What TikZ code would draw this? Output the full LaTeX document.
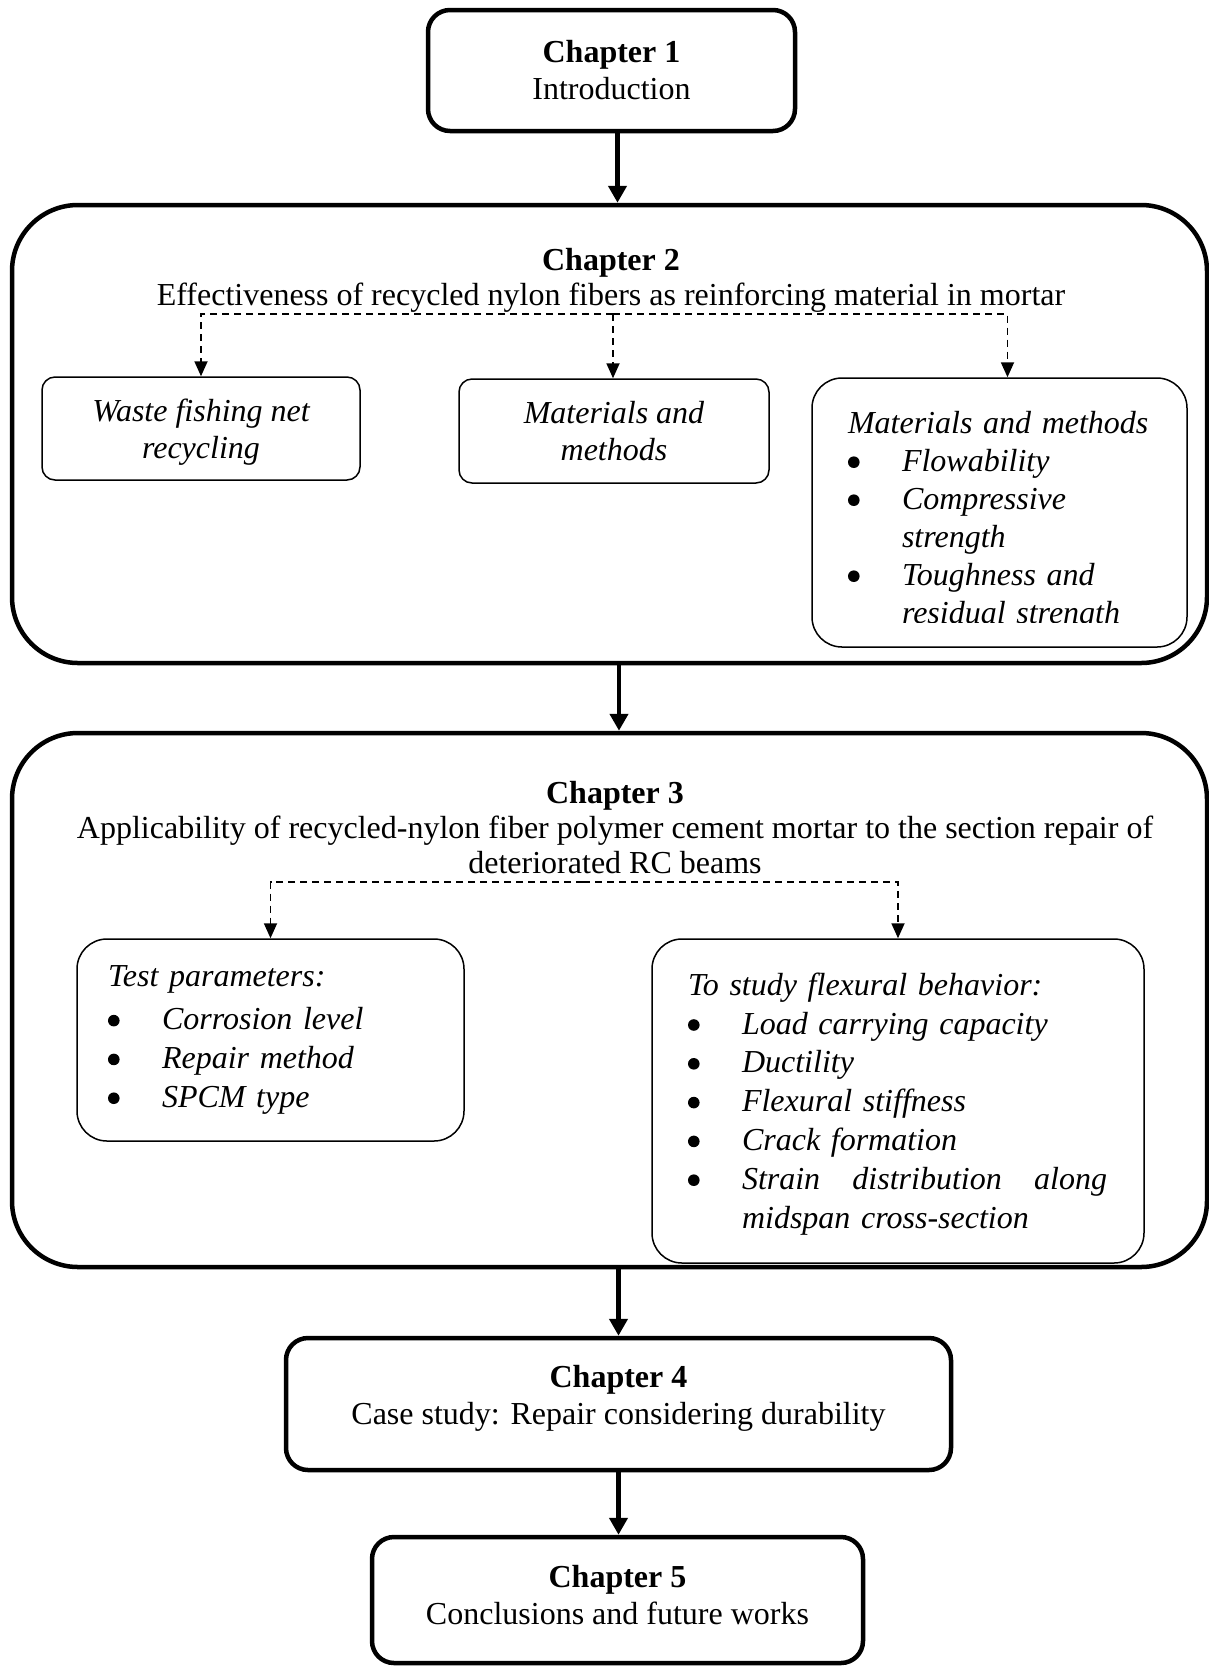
\documentclass[tikz,border=0pt]{standalone}
\usepackage{fontspec}
\setmainfont{Liberation Serif}
\usetikzlibrary{arrows.meta,positioning}
\tikzset{
  chbox/.style={rectangle, rounded corners=11pt, draw, line width=2.25pt,
                align=center, font=\fontsize{16}{18.5}\selectfont},
  bigbox/.style={rectangle, rounded corners=33pt, draw, line width=2.25pt},
  ttl/.style={align=center, inner sep=0pt, font=\fontsize{16}{17.5}\selectfont},
  subbox/.style={rectangle, rounded corners=6.5pt, draw, line width=0.75pt,
                 align=center, font=\fontsize{16}{18.6}\selectfont\itshape},
  lstbox/.style={rectangle, rounded corners=15pt, draw, line width=0.75pt,
                 align=left, font=\fontsize{16}{19.4}\selectfont\itshape},
  carr/.style={-{Triangle[width=9pt,length=8.5pt]}, line width=2.25pt},
  darr/.style={-{Triangle[width=6.5pt,length=7.5pt]}, line width=0.9pt,
               dash pattern=on 3.5pt off 2.5pt},
}
\newcommand{\bitem}[1]{\makebox[27pt][l]{\tikz[baseline=-4.5pt]\fill (0,0) circle (2.9pt);}#1}
\newcommand{\bcont}[1]{\hspace*{27pt}#1}

\begin{document}
\begin{tikzpicture}[x=0.5pt, y=-0.5pt]
        \useasboundingbox (0,0) rectangle (1209,1667);

        \node[chbox, minimum width=183.5pt, minimum height=60.5pt] (ch1) at (611.5,70.5) {\textbf{Chapter 1}\\Introduction};

        \node[bigbox, minimum width=597.5pt, minimum height=229pt] (ch2) at (609.5,434) {};
        \node[ttl] (t2) at (611,280) {\textbf{Chapter 2}\\Effectiveness of recycled nylon fibers as reinforcing material in mortar};
        \node[subbox, minimum width=159pt, minimum height=51.5pt] (ch2a) at (201,428.5) {\rule{0pt}{14.8pt}Waste fishing net\\recycling};
        \node[subbox, minimum width=155pt, minimum height=52pt] (ch2b) at (614,431) {Materials and\\methods};
        \node[lstbox, minimum width=187.5pt, minimum height=134.5pt] (ch2c) at (999.5,512.5) {};
        \begin{scope}
          \clip (ch2c.north west) rectangle ([yshift=12.5pt]ch2c.south east);
          \node[lstbox, draw=none, text width=158pt, font=\fontsize{16}{19}\selectfont\itshape] (ch2ct) at (1006,520.5) {Materials and methods\\
            \bitem{Flowability}\\ \bitem{Compressive}\\ \bcont{strength}\\
            \bitem{Toughness and}\\ \bcont{residual strength}};
        \end{scope}
        \coordinate (j2) at (613,314);
        \draw[darr] (j2) -| (ch2a.north);
        \draw[darr] (j2) -- (j2 |- ch2b.north);
        \draw[darr] (j2) -| ([xshift=4pt]ch2c.north);

        \node[bigbox, minimum width=597.5pt, minimum height=267pt] (ch3) at (609.5,1000) {};
        \node[ttl] (t3) at (615,828) {\textbf{Chapter 3}\\Applicability of recycled-nylon fiber polymer cement mortar to the section repair of\\deteriorated RC beams};
        \node[lstbox, minimum width=193.5pt, minimum height=101pt, text width=162.5pt] (ch3a) at (270.5,1040) {Test parameters:\\[2pt]
            \bitem{Corrosion level}\\ \bitem{Repair method}\\ \bitem{SPCM type}};
        \node[lstbox, minimum width=246pt, minimum height=162pt, text width=210pt] (ch3b) at (898,1101) {\rule{0pt}{14pt}To study flexural behavior:\\
            \bitem{Load carrying capacity}\\ \bitem{Ductility}\\ \bitem{Flexural stiffness}\\
            \bitem{Crack formation}\\ \bitem{\makebox[182.5pt][l]{Strain\hfill distribution\hfill along}}\\
            \bcont{midspan cross-section}};
        \coordinate (j3) at (583,882);
        \draw[darr] (j3) -| (ch3a.north);
        \draw[darr] (j3) -| (ch3b.north);

        \node[chbox, minimum width=332.5pt, minimum height=66pt, text depth=9.5pt] (ch4) at (618.5,1404) {\textbf{Chapter 4}\\Case study: Repair considering durability};
        \node[chbox, minimum width=245.5pt, minimum height=63pt, text depth=5pt] (ch5) at (617.5,1600) {\textbf{Chapter 5}\\Conclusions and future works};

        \draw[carr] ([xshift=3pt]ch1.south) -- ([xshift=3pt]ch1.south |- ch2.north);
        \draw[carr] ([xshift=4.75pt]ch2.south) -- ([xshift=4.75pt]ch2.south |- ch3.north);
        \draw[carr] (ch3.south -| ch4.north) -- (ch4.north);
        \draw[carr] (ch4.south) -- (ch5.north -| ch4.south);
    \end{tikzpicture}
\end{document}
